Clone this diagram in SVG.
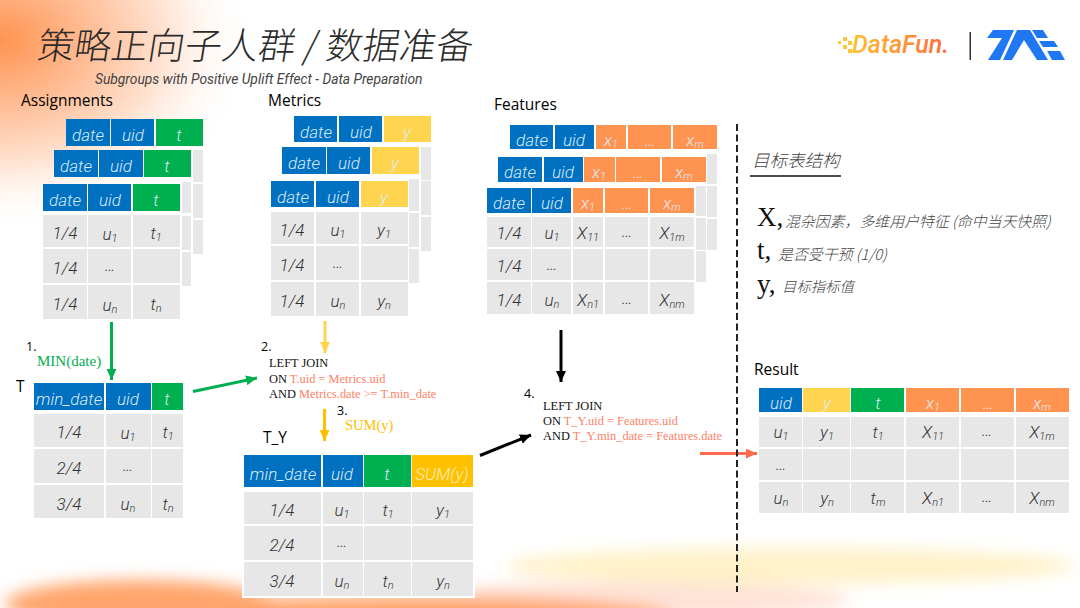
<svg xmlns="http://www.w3.org/2000/svg" width="1080" height="608" viewBox="0 0 1080 608">
<style>
.b{fill:#0070C0}.g{fill:#00B050}.y{fill:#FFD54F}.a{fill:#FFC000}.o{fill:#FF9350}.c{fill:#E7E7E7}
text{font-family:"Roboto","Noto Sans CJK SC",sans-serif}
.th,.td{font-style:italic;font-weight:300;text-anchor:middle;font-size:17px}
.th{fill:#DCEBF7}.td{fill:#333}
.lb{font-family:"Open Sans","Liberation Sans",sans-serif;font-size:15.5px;fill:#000}
.sql{font-family:"Liberation Serif","Noto Sans CJK SC",serif;font-size:12.4px;fill:#111}
.r{fill:#FF7F66}
.cn{font-family:"Noto Sans CJK SC",sans-serif;font-style:italic;font-weight:300;fill:#444}
.vr{font-family:"Liberation Serif",serif;fill:#111}
.s{font-size:11px}
.cnx{fill:none;stroke-width:3}
</style>
<defs>
<radialGradient id="tl" cx="0" cy="0" r="1" gradientUnits="userSpaceOnUse" gradientTransform="translate(0 40) scale(255 190)">
<stop offset="0" stop-color="#FF9350"/><stop offset=".3" stop-color="#FFB78C"/><stop offset=".65" stop-color="#FFE3D2"/><stop offset="1" stop-color="#FFF" stop-opacity="0"/>
</radialGradient>
<linearGradient id="df" x1="0" x2="1" y1="0" y2="0"><stop offset="0" stop-color="#FFC030"/><stop offset="1" stop-color="#FF6A3C"/></linearGradient>
<filter id="bl" x="-30%" y="-150%" width="160%" height="400%"><feGaussianBlur stdDeviation="8"/></filter>
<marker id="mg" markerUnits="userSpaceOnUse" markerWidth="12" markerHeight="10" refX="11" refY="5" orient="auto"><polygon points="0,0 11,5 0,10" fill="#00B050"/></marker>
<marker id="my" markerUnits="userSpaceOnUse" markerWidth="12" markerHeight="10" refX="11" refY="5" orient="auto"><polygon points="0,0 11,5 0,10" fill="#FFD54F"/></marker>
<marker id="ma" markerUnits="userSpaceOnUse" markerWidth="12" markerHeight="10" refX="11" refY="5" orient="auto"><polygon points="0,0 11,5 0,10" fill="#FFC000"/></marker>
<marker id="mk" markerUnits="userSpaceOnUse" markerWidth="12" markerHeight="10" refX="11" refY="5" orient="auto"><polygon points="0,0 11,5 0,10" fill="#000"/></marker>
<marker id="mr" markerUnits="userSpaceOnUse" markerWidth="12" markerHeight="10" refX="11" refY="5" orient="auto"><polygon points="0,0 11,5 0,10" fill="#FF6A4D"/></marker>
</defs>

<g id="background">
<rect width="1080" height="608" fill="#fff"/>
<rect width="280" height="240" fill="url(#tl)"/>
<g filter="url(#bl)">
<ellipse cx="790" cy="566" rx="285" ry="18" fill="#FFF1C8"/>
<ellipse cx="630" cy="600" rx="220" ry="18" fill="#FFE2D6"/>
<ellipse cx="140" cy="604" rx="135" ry="24" fill="#FFA56C"/>
<ellipse cx="400" cy="616" rx="270" ry="20" fill="#FFA56C"/>
</g>
<rect x="242" y="453" width="233" height="145" fill="#fff"/>
</g>

<g id="title">
<text transform="translate(36 59) skewX(-9)" font-size="36.800" font-weight="300" fill="#2b2b2b" style="font-family:'Noto Sans CJK SC',sans-serif">策略正向子人群 / 数据准备</text>
<text x="95" y="84" font-size="13.800" font-style="italic" fill="#444">Subgroups with Positive Uplift Effect -  Data Preparation</text>
</g>

<g id="logos">
<g fill="#FFC53A"><rect x="838" y="41" width="3" height="3"/><rect x="843" y="37" width="4" height="4"/><rect x="843" y="45" width="4" height="4"/><rect x="848" y="41" width="4" height="4"/><rect x="848" y="49" width="4" height="4"/></g>
<text x="852" y="53" font-size="25" font-weight="500" font-style="italic" fill="url(#df)" style="font-family:'Roboto',sans-serif">DataFun.</text>
<rect x="969.500" y="32" width="1.500" height="28" fill="#333"/>
<g fill="#1F77F2">
<polygon points="993,30 1014,30 1000,60 988,60 1002,38 987,38"/>
<polygon points="1017,30 1030,30 1048,60 1037,60 1024,40 1012,60 1003,60"/>
<polygon points="1032,30 1043,30 1048,38 1037,38"/>
<polygon points="1039,41 1054,41 1058,47 1043,47"/>
<polygon points="1047,51 1060,51 1065,60 1052,60"/>
</g>
</g>

<g id="assignments">
<text class="lb" x="21" y="106">Assignments</text>
<g id="assignments-back">
<rect class="b" x="66" y="119" width="44" height="27"/><rect class="b" x="111" y="119" width="43" height="27"/><rect class="g" x="156" y="119" width="47" height="27"/>
<text class="th" x="88" y="141">date</text><text class="th" x="133" y="141">uid</text><text class="th" x="179" y="141">t</text>
<rect class="c" x="193" y="150" width="10" height="32"/><rect class="c" x="193" y="184" width="10" height="34"/><rect class="c" x="193" y="220" width="10" height="34"/>
</g>
<g id="assignments-mid">
<rect class="b" x="54" y="150" width="44" height="27"/><rect class="b" x="99" y="150" width="44" height="27"/><rect class="g" x="144" y="150" width="47" height="27"/>
<text class="th" x="76" y="172">date</text><text class="th" x="121" y="172">uid</text><text class="th" x="167" y="172">t</text>
<rect class="c" x="182" y="182" width="9" height="31"/><rect class="c" x="182" y="216" width="9" height="34"/><rect class="c" x="182" y="252" width="9" height="34"/>
</g>
<g id="assignments-front">
<rect class="b" x="43" y="184" width="44" height="27"/><rect class="b" x="88" y="184" width="43" height="27"/><rect class="g" x="133" y="184" width="47" height="27"/>
<text class="th" x="65" y="206">date</text><text class="th" x="110" y="206">uid</text><text class="th" x="156" y="206">t</text>
<rect class="c" x="43" y="215" width="44" height="32"/><rect class="c" x="88" y="215" width="43" height="32"/><rect class="c" x="133" y="215" width="47" height="32"/>
<rect class="c" x="43" y="249" width="44" height="34"/><rect class="c" x="88" y="249" width="43" height="34"/><rect class="c" x="133" y="249" width="47" height="34"/>
<rect class="c" x="43" y="285" width="44" height="34"/><rect class="c" x="88" y="285" width="43" height="34"/><rect class="c" x="133" y="285" width="47" height="34"/>
<text class="td" x="65" y="239">1/4</text><text class="td" x="110" y="240">u<tspan class="s" dy="2">1</tspan></text><text class="td" x="156" y="239">t<tspan class="s" dy="2">1</tspan></text>
<text class="td" x="65" y="274">1/4</text><text class="td" x="110" y="271">…</text>
<text class="td" x="65" y="310">1/4</text><text class="td" x="110" y="311">u<tspan class="s" dy="2">n</tspan></text><text class="td" x="156" y="310">t<tspan class="s" dy="2">n</tspan></text>
</g>
</g>

<g id="metrics">
<text class="lb" x="268" y="106">Metrics</text>
<g id="metrics-back">
<rect class="b" x="294" y="116" width="43" height="26"/><rect class="b" x="339" y="116" width="43" height="26"/><rect class="y" x="384" y="116" width="47" height="26"/>
<text class="th" x="316" y="138">date</text><text class="th" x="361" y="138">uid</text><text class="th" x="407" y="138">y</text>
<rect class="c" x="421" y="147" width="10" height="33"/><rect class="c" x="421" y="181" width="10" height="34"/><rect class="c" x="421" y="217" width="10" height="34"/>
</g>
<g id="metrics-mid">
<rect class="b" x="282" y="147" width="44" height="27"/><rect class="b" x="327" y="147" width="43" height="27"/><rect class="y" x="372" y="147" width="47" height="27"/>
<text class="th" x="304" y="169">date</text><text class="th" x="349" y="169">uid</text><text class="th" x="395" y="169">y</text>
<rect class="c" x="409" y="179" width="10" height="32"/><rect class="c" x="409" y="213" width="10" height="34"/><rect class="c" x="409" y="249" width="10" height="34"/>
</g>
<g id="metrics-front">
<rect class="b" x="271" y="181" width="43" height="26"/><rect class="b" x="316" y="181" width="43" height="26"/><rect class="y" x="361" y="181" width="47" height="26"/>
<text class="th" x="293" y="203">date</text><text class="th" x="338" y="203">uid</text><text class="th" x="384" y="203">y</text>
<rect class="c" x="271" y="212" width="43" height="32"/><rect class="c" x="316" y="212" width="43" height="32"/><rect class="c" x="361" y="212" width="47" height="32"/>
<rect class="c" x="271" y="246" width="43" height="34"/><rect class="c" x="316" y="246" width="43" height="34"/><rect class="c" x="361" y="246" width="47" height="34"/>
<rect class="c" x="271" y="282" width="43" height="34"/><rect class="c" x="316" y="282" width="43" height="34"/><rect class="c" x="361" y="282" width="47" height="34"/>
<text class="td" x="292" y="236">1/4</text><text class="td" x="338" y="236">u<tspan class="s" dy="2">1</tspan></text><text class="td" x="384" y="236">y<tspan class="s" dy="2">1</tspan></text>
<text class="td" x="292" y="271">1/4</text><text class="td" x="338" y="268">…</text>
<text class="td" x="292" y="307">1/4</text><text class="td" x="338" y="307">u<tspan class="s" dy="2">n</tspan></text><text class="td" x="384" y="307">y<tspan class="s" dy="2">n</tspan></text>
</g>
</g>

<g id="features">
<text class="lb" x="494" y="110">Features</text>
<g id="features-back">
<rect class="b" x="510" y="125" width="43" height="24"/><rect class="b" x="555" y="125" width="39" height="24"/><rect class="o" x="596" y="125" width="30" height="24"/><rect class="o" x="628" y="125" width="43" height="24"/><rect class="o" x="673" y="125" width="44" height="24"/>
<text class="th" x="532" y="146">date</text><text class="th" x="574" y="146">uid</text><text class="th" x="611" y="146">x<tspan class="s" dy="2">1</tspan></text><text class="th" x="650" y="146">…</text><text class="th" x="695" y="146">x<tspan class="s" dy="2">m</tspan></text>
<rect class="c" x="707" y="154" width="10" height="30"/><rect class="c" x="707" y="186" width="10" height="31"/><rect class="c" x="707" y="219" width="10" height="31"/>
</g>
<g id="features-mid">
<rect class="b" x="498" y="157" width="44" height="25"/><rect class="b" x="544" y="157" width="39" height="25"/><rect class="o" x="584" y="157" width="31" height="25"/><rect class="o" x="616" y="157" width="44" height="25"/><rect class="o" x="662" y="157" width="44" height="25"/>
<text class="th" x="520" y="178">date</text><text class="th" x="563" y="178">uid</text><text class="th" x="599" y="178">x<tspan class="s" dy="2">1</tspan></text><text class="th" x="638" y="178">…</text><text class="th" x="684" y="178">x<tspan class="s" dy="2">m</tspan></text>
<rect class="c" x="696" y="186" width="10" height="30"/><rect class="c" x="696" y="218" width="10" height="32"/><rect class="c" x="696" y="251" width="10" height="31"/>
</g>
<g id="features-front">
<rect class="b" x="487" y="188" width="44" height="25"/><rect class="b" x="532" y="188" width="39" height="25"/><rect class="o" x="573" y="188" width="30" height="25"/><rect class="o" x="605" y="188" width="43" height="25"/><rect class="o" x="650" y="188" width="44" height="25"/>
<text class="th" x="509" y="209">date</text><text class="th" x="552" y="209">uid</text><text class="th" x="588" y="209">x<tspan class="s" dy="2">1</tspan></text><text class="th" x="627" y="209">…</text><text class="th" x="672" y="209">x<tspan class="s" dy="2">m</tspan></text>
<rect class="c" x="487" y="217" width="44" height="30"/><rect class="c" x="532" y="217" width="39" height="30"/><rect class="c" x="573" y="217" width="30" height="30"/><rect class="c" x="605" y="217" width="43" height="30"/><rect class="c" x="650" y="217" width="44" height="30"/>
<rect class="c" x="487" y="249" width="44" height="31"/><rect class="c" x="532" y="249" width="39" height="31"/><rect class="c" x="573" y="249" width="30" height="31"/><rect class="c" x="605" y="249" width="43" height="31"/><rect class="c" x="650" y="249" width="44" height="31"/>
<rect class="c" x="487" y="282" width="44" height="32"/><rect class="c" x="532" y="282" width="39" height="32"/><rect class="c" x="573" y="282" width="30" height="32"/><rect class="c" x="605" y="282" width="43" height="32"/><rect class="c" x="650" y="282" width="44" height="32"/>
<text class="td" x="509" y="239">1/4</text><text class="td" x="552" y="239">u<tspan class="s" dy="2">1</tspan></text><text class="td" x="588" y="239">X<tspan class="s" dy="2">11</tspan></text><text class="td" x="627" y="237">…</text><text class="td" x="672" y="239">X<tspan class="s" dy="2">1m</tspan></text>
<text class="td" x="509" y="272">1/4</text><text class="td" x="552" y="270">…</text>
<text class="td" x="509" y="306">1/4</text><text class="td" x="552" y="306">u<tspan class="s" dy="2">n</tspan></text><text class="td" x="588" y="306">X<tspan class="s" dy="2">n1</tspan></text><text class="td" x="627" y="304">…</text><text class="td" x="672" y="306">X<tspan class="s" dy="2">nm</tspan></text>
</g>
</g>

<g id="table-t">
<text class="lb" x="16" y="392">T</text>
<rect class="b" x="34" y="383" width="70" height="27"/><rect class="b" x="106" y="383" width="45" height="27"/><rect class="g" x="152" y="383" width="31" height="27"/>
<text class="th" x="69" y="405">min_date</text><text class="th" x="128" y="405">uid</text><text class="th" x="167" y="405">t</text>
<rect class="c" x="34" y="414" width="70" height="33"/><rect class="c" x="106" y="414" width="45" height="33"/><rect class="c" x="152" y="414" width="31" height="33"/>
<rect class="c" x="34" y="449" width="70" height="34"/><rect class="c" x="106" y="449" width="45" height="34"/><rect class="c" x="152" y="449" width="31" height="34"/>
<rect class="c" x="34" y="485" width="70" height="33"/><rect class="c" x="106" y="485" width="45" height="33"/><rect class="c" x="152" y="485" width="31" height="33"/>
<text class="td" x="69" y="438">1/4</text><text class="td" x="128" y="439">u<tspan class="s" dy="2">1</tspan></text><text class="td" x="168" y="438">t<tspan class="s" dy="2">1</tspan></text>
<text class="td" x="69" y="474">2/4</text><text class="td" x="128" y="471">…</text>
<text class="td" x="69" y="510">3/4</text><text class="td" x="128" y="510">u<tspan class="s" dy="2">n</tspan></text><text class="td" x="168" y="510">t<tspan class="s" dy="2">n</tspan></text>
</g>

<g id="table-t-y">
<text class="lb" x="263" y="443">T_Y</text>
<rect class="b" x="244" y="455" width="77" height="32"/><rect class="b" x="323" y="455" width="40" height="32"/><rect class="g" x="364" y="455" width="47" height="32"/><rect class="a" x="412" y="455" width="61" height="32"/>
<text class="th" x="283" y="480">min_date</text><text class="th" x="342" y="480">uid</text><text class="th" x="387" y="480">t</text><text class="th" x="442" y="480" style="fill:#FFEFC0">SUM(y)</text>
<rect class="c" x="244" y="492" width="77" height="32"/><rect class="c" x="323" y="492" width="40" height="32"/><rect class="c" x="364" y="492" width="47" height="32"/><rect class="c" x="412" y="492" width="61" height="32"/>
<rect class="c" x="244" y="526" width="77" height="34"/><rect class="c" x="323" y="526" width="40" height="34"/><rect class="c" x="364" y="526" width="47" height="34"/><rect class="c" x="412" y="526" width="61" height="34"/>
<rect class="c" x="244" y="562" width="77" height="34"/><rect class="c" x="323" y="562" width="40" height="34"/><rect class="c" x="364" y="562" width="47" height="34"/><rect class="c" x="412" y="562" width="61" height="34"/>
<text class="td" x="282" y="516">1/4</text><text class="td" x="342" y="516">u<tspan class="s" dy="2">1</tspan></text><text class="td" x="388" y="516">t<tspan class="s" dy="2">1</tspan></text><text class="td" x="443" y="516">y<tspan class="s" dy="2">1</tspan></text>
<text class="td" x="282" y="551">2/4</text><text class="td" x="342" y="547">…</text>
<text class="td" x="282" y="587">3/4</text><text class="td" x="342" y="587">u<tspan class="s" dy="2">n</tspan></text><text class="td" x="388" y="587">t<tspan class="s" dy="2">n</tspan></text><text class="td" x="443" y="587">y<tspan class="s" dy="2">n</tspan></text>
</g>

<g id="table-result">
<text class="lb" x="754" y="375">Result</text>
<rect class="b" x="759" y="388" width="43" height="24"/><rect class="y" x="803" y="388" width="47" height="24"/><rect class="g" x="851" y="388" width="53" height="24"/><rect class="o" x="906" y="388" width="53" height="24"/><rect class="o" x="961" y="388" width="53" height="24"/><rect class="o" x="1016" y="388" width="53" height="24"/>
<text class="th" x="781" y="409">uid</text><text class="th" x="827" y="409">y</text><text class="th" x="878" y="409">t</text><text class="th" x="933" y="409">x<tspan class="s" dy="2">1</tspan></text><text class="th" x="988" y="409">…</text><text class="th" x="1042" y="409">x<tspan class="s" dy="2">m</tspan></text>
<rect class="c" x="759" y="417" width="43" height="30"/><rect class="c" x="803" y="417" width="47" height="30"/><rect class="c" x="851" y="417" width="53" height="30"/><rect class="c" x="906" y="417" width="53" height="30"/><rect class="c" x="961" y="417" width="53" height="30"/><rect class="c" x="1016" y="417" width="53" height="30"/>
<rect class="c" x="759" y="449" width="43" height="31"/><rect class="c" x="803" y="449" width="47" height="31"/><rect class="c" x="851" y="449" width="53" height="31"/><rect class="c" x="906" y="449" width="53" height="31"/><rect class="c" x="961" y="449" width="53" height="31"/><rect class="c" x="1016" y="449" width="53" height="31"/>
<rect class="c" x="759" y="482" width="43" height="31"/><rect class="c" x="803" y="482" width="47" height="31"/><rect class="c" x="851" y="482" width="53" height="31"/><rect class="c" x="906" y="482" width="53" height="31"/><rect class="c" x="961" y="482" width="53" height="31"/><rect class="c" x="1016" y="482" width="53" height="31"/>
<text class="td" x="781" y="438">u<tspan class="s" dy="2">1</tspan></text><text class="td" x="827" y="438">y<tspan class="s" dy="2">1</tspan></text><text class="td" x="878" y="438">t<tspan class="s" dy="2">1</tspan></text><text class="td" x="933" y="438">X<tspan class="s" dy="2">11</tspan></text><text class="td" x="987" y="436">…</text><text class="td" x="1042" y="438">X<tspan class="s" dy="2">1m</tspan></text>
<text class="td" x="781" y="470">…</text>
<text class="td" x="781" y="504">u<tspan class="s" dy="2">n</tspan></text><text class="td" x="827" y="504">y<tspan class="s" dy="2">n</tspan></text><text class="td" x="878" y="504">t<tspan class="s" dy="2">m</tspan></text><text class="td" x="933" y="504">X<tspan class="s" dy="2">n1</tspan></text><text class="td" x="987" y="502">…</text><text class="td" x="1042" y="504">X<tspan class="s" dy="2">nm</tspan></text>
</g>

<g id="connectors" class="cnx">
<line x1="111.500" y1="322" x2="111.500" y2="380" stroke="#00B050" marker-end="url(#mg)"/>
<line x1="193" y1="391.500" x2="257" y2="378" stroke="#00B050" marker-end="url(#mg)"/>
<line x1="325" y1="321" x2="325" y2="353" stroke="#FFD54F" marker-end="url(#my)"/>
<line x1="324.500" y1="409" x2="324.500" y2="441" stroke="#FFC000" marker-end="url(#ma)"/>
<line x1="480" y1="455.500" x2="531" y2="435" stroke="#000" marker-end="url(#mk)"/>
<line x1="561" y1="330" x2="561" y2="382" stroke="#000" marker-end="url(#mk)"/>
<line x1="700" y1="453.500" x2="757" y2="453.500" stroke="#FF6A4D" marker-end="url(#mr)"/>
</g>

<g id="divider"><line x1="737" y1="124" x2="737" y2="592" stroke="#222" stroke-width="2" stroke-dasharray="7 3.500"/></g>

<g id="step-1">
<text class="lb" x="26" y="351" style="font-size:12.500px;fill:#000">1.</text>
<text class="sql" x="37" y="366" style="font-size:15px;fill:#00B050">MIN(date)</text>
</g>
<g id="step-2">
<text class="lb" x="261" y="351" style="font-size:12.500px;fill:#000">2.</text>
<text class="sql" x="269" y="367">LEFT JOIN</text>
<text class="sql" x="269" y="383">ON <tspan class="r">T.uid = Metrics.uid</tspan></text>
<text class="sql" x="269" y="398">AND <tspan class="r">Metrics.date &gt;= T.min_date</tspan></text>
</g>
<g id="step-3">
<text class="lb" x="337" y="415" style="font-size:12.500px;fill:#000">3.</text>
<text class="sql" x="345" y="430" style="font-size:14.500px;fill:#FFC000">SUM(y)</text>
</g>
<g id="step-4">
<text class="lb" x="524" y="398" style="font-size:12.500px;fill:#000">4.</text>
<text class="sql" x="543" y="410">LEFT JOIN</text>
<text class="sql" x="543" y="425">ON <tspan class="r">T_Y.uid = Features.uid</tspan></text>
<text class="sql" x="543" y="440">AND <tspan class="r">T_Y.min_date = Features.date</tspan></text>
</g>

<g id="legend">
<text class="cn" x="752" y="167" font-size="17.500">目标表结构</text>
<line x1="750" y1="176" x2="841" y2="176" stroke="#111" stroke-width="1.500"/>
<text class="vr" x="757" y="226" font-size="27">X,</text>
<text class="cn" x="785" y="227" font-size="14.900">混杂因素，多维用户特征 (命中当天快照)</text>
<text class="vr" x="757" y="259" font-size="27">t,</text>
<text class="cn" x="778" y="260" font-size="14.900">是否受干预 (1/0)</text>
<text class="vr" x="757" y="293" font-size="27">y,</text>
<text class="cn" x="782" y="292" font-size="14.400">目标指标值</text>
</g>
</svg>
